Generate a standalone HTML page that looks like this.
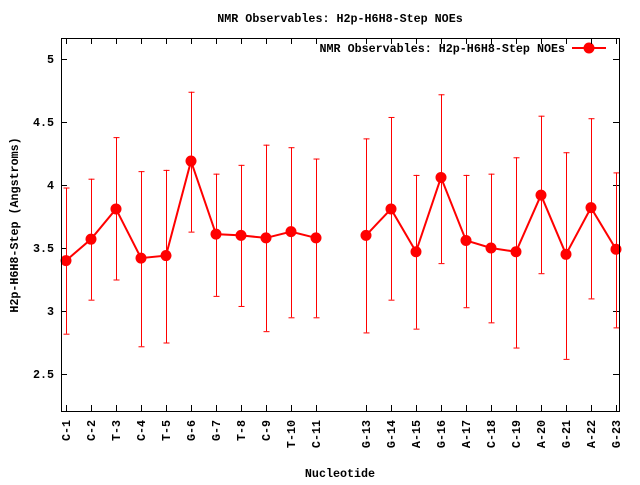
<!DOCTYPE html>
<html><head><meta charset="utf-8"><style>
html,body{margin:0;padding:0;background:#fff;}
svg text{font-family:"Liberation Mono","DejaVu Sans Mono",monospace;font-weight:bold;font-size:11.7px;fill:#000;}
</style></head><body>
<svg id="s" width="640" height="480" viewBox="0 0 640 480" xmlns="http://www.w3.org/2000/svg">
<rect width="640" height="480" fill="#fff"/>
<text x="340" y="22" text-anchor="middle">NMR Observables: H2p-H6H8-Step NOEs</text>
<text x="340" y="477" text-anchor="middle">Nucleotide</text>
<text transform="translate(18,225) rotate(-90)" text-anchor="middle">H2p-H6H8-Step (Angstroms)</text>
<g text-anchor="end">
<text x="54" y="63">5</text>
<text x="54" y="126">4.5</text>
<text x="54" y="189">4</text>
<text x="54" y="252">3.5</text>
<text x="54" y="315">3</text>
<text x="54" y="378">2.5</text>
</g>
<g text-anchor="end">
<text transform="translate(70,420) rotate(-90)">C-1</text>
<text transform="translate(95,420) rotate(-90)">C-2</text>
<text transform="translate(120,420) rotate(-90)">T-3</text>
<text transform="translate(145,420) rotate(-90)">C-4</text>
<text transform="translate(170,420) rotate(-90)">T-5</text>
<text transform="translate(195,420) rotate(-90)">G-6</text>
<text transform="translate(220,420) rotate(-90)">G-7</text>
<text transform="translate(245,420) rotate(-90)">T-8</text>
<text transform="translate(270,420) rotate(-90)">C-9</text>
<text transform="translate(295,420) rotate(-90)">T-10</text>
<text transform="translate(320,420) rotate(-90)">C-11</text>
<text transform="translate(370,420) rotate(-90)">G-13</text>
<text transform="translate(395,420) rotate(-90)">G-14</text>
<text transform="translate(420,420) rotate(-90)">A-15</text>
<text transform="translate(445,420) rotate(-90)">G-16</text>
<text transform="translate(470,420) rotate(-90)">A-17</text>
<text transform="translate(495,420) rotate(-90)">C-18</text>
<text transform="translate(520,420) rotate(-90)">C-19</text>
<text transform="translate(545,420) rotate(-90)">A-20</text>
<text transform="translate(570,420) rotate(-90)">G-21</text>
<text transform="translate(595,420) rotate(-90)">A-22</text>
<text transform="translate(620,420) rotate(-90)">G-23</text>
</g>
<text x="565" y="52" text-anchor="end">NMR Observables: H2p-H6H8-Step NOEs</text>
<line x1="572" y1="48" x2="606" y2="48" stroke="#f00" stroke-width="2"/>
<circle cx="589" cy="48" r="5.5" fill="#f00"/>
<g id="g"></g>
<rect x="61.5" y="38.5" width="558" height="373" fill="none" stroke="#000" stroke-width="1"/>
</svg>
<script>
var g=document.getElementById('g'),NS='http://www.w3.org/2000/svg';
function el(n,a){var e=document.createElementNS(NS,n);for(var k in a)e.setAttribute(k,a[k]);g.appendChild(e);return e;}
function Y(v){return 185-(v-4)*126;}
function X(i){return 66+(i-1)*25;}
// ticks
[5,4.5,4,3.5,3,2.5].forEach(function(v){var y=Y(v)+0.5;el('line',{x1:61,y1:y,x2:67,y2:y,stroke:'#000'});el('line',{x1:619,y1:y,x2:613,y2:y,stroke:'#000'});});
for(var i=1;i<=23;i++){if(i==12)continue;var x=X(i)+0.5;el('line',{x1:x,y1:411,x2:x,y2:405,stroke:'#000'});el('line',{x1:x,y1:38,x2:x,y2:44,stroke:'#000'});}
var d=[[1,3.40,2.82,3.98],[2,3.57,3.09,4.05],[3,3.81,3.25,4.38],[4,3.42,2.72,4.11],[5,3.44,2.75,4.12],[6,4.19,3.63,4.74],[7,3.61,3.12,4.09],[8,3.60,3.04,4.16],[9,3.58,2.84,4.32],[10,3.63,2.95,4.30],[11,3.58,2.95,4.21],[13,3.60,2.83,4.37],[14,3.81,3.09,4.54],[15,3.47,2.86,4.08],[16,4.06,3.38,4.72],[17,3.56,3.03,4.08],[18,3.50,2.91,4.09],[19,3.47,2.71,4.22],[20,3.92,3.30,4.55],[21,3.45,2.62,4.26],[22,3.82,3.10,4.53],[23,3.49,2.87,4.10]];
d.forEach(function(p){var x=X(p[0])+0.5;el('line',{x1:x,y1:Y(p[2]),x2:x,y2:Y(p[3]),stroke:'#f00'});
el('line',{x1:x-3,y1:Y(p[2])+.5,x2:x+3,y2:Y(p[2])+.5,stroke:'#f00'});el('line',{x1:x-3,y1:Y(p[3])+.5,x2:x+3,y2:Y(p[3])+.5,stroke:'#f00'});});
function poly(a){el('polyline',{points:a.map(function(p){return X(p[0])+','+Y(p[1]);}).join(' '),fill:'none',stroke:'#f00','stroke-width':2});}
poly(d.filter(function(p){return p[0]<12;}));poly(d.filter(function(p){return p[0]>12;}));
d.forEach(function(p){el('circle',{cx:X(p[0]),cy:Y(p[1]),r:5.5,fill:'#f00'});});
</script>
</body></html>
